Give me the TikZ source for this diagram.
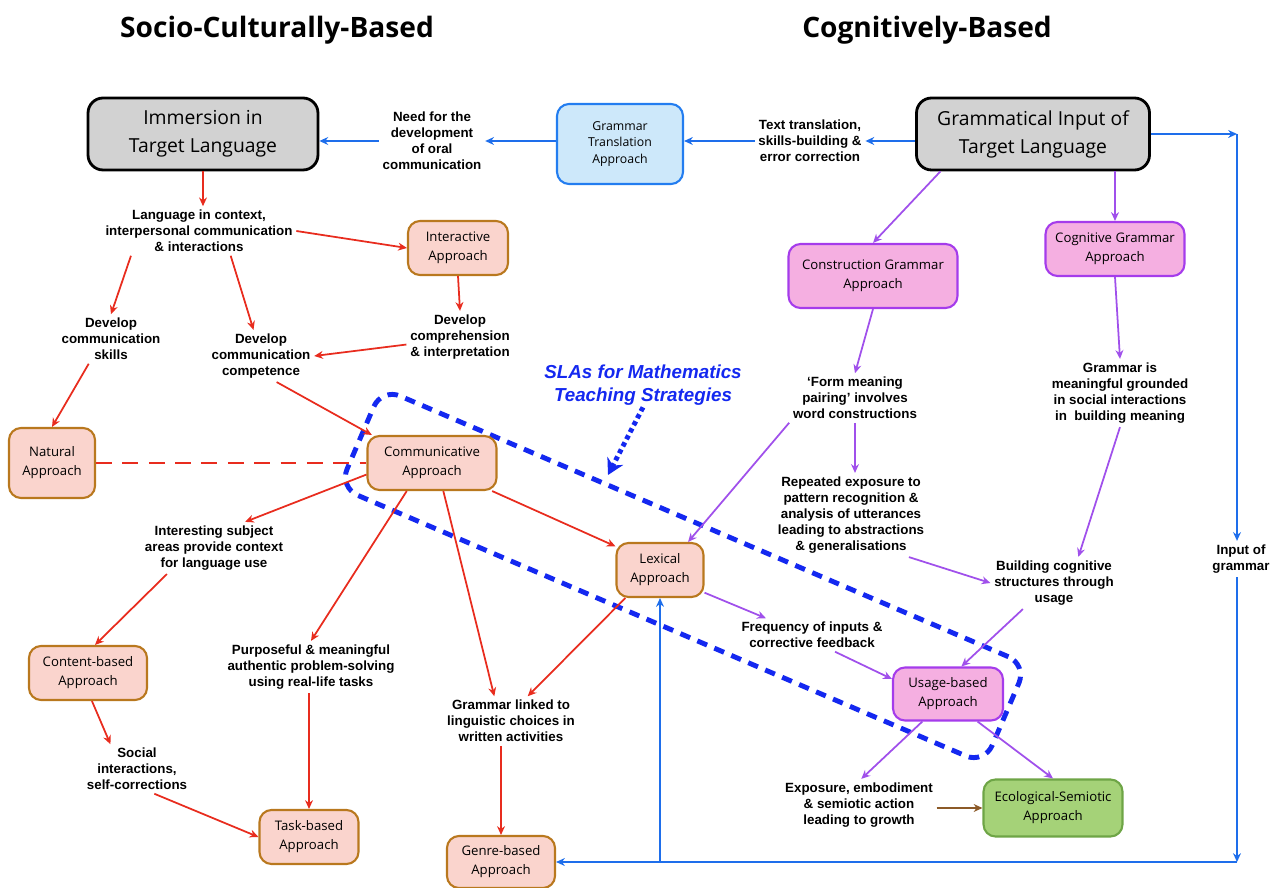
\documentclass[tikz,border=0pt]{standalone}
\usepackage{fontspec}
\setmainfont{Liberation Sans}
\newfontfamily\boxfont{Open Sans}
\usetikzlibrary{arrows.meta, positioning}

\definecolor{redln}{RGB}{232,44,30}
\definecolor{purpln}{RGB}{160,80,235}
\definecolor{blueln}{RGB}{30,110,235}
\definecolor{brownln}{RGB}{140,90,40}
\definecolor{slablue}{RGB}{20,40,240}
\definecolor{apfill}{RGB}{250,212,205}
\definecolor{apdraw}{RGB}{185,120,30}
\definecolor{cgfill}{RGB}{245,175,225}
\definecolor{cgdraw}{RGB}{165,60,235}
\definecolor{ecofill}{RGB}{165,210,120}
\definecolor{ecodraw}{RGB}{110,165,70}
\definecolor{gtfill}{RGB}{205,232,250}
\definecolor{gtdraw}{RGB}{35,125,240}
\definecolor{bigfill}{RGB}{210,210,210}

\begin{document}
\begin{tikzpicture}[
        x=0.02cm, y=-0.02cm,
        >={Stealth[length=5pt,width=4.5pt]},
        box/.style={rounded corners=0.24cm, align=center, line width=1.2pt, inner sep=1pt,
            font=\boxfont\fontsize{7.5}{10.8}\selectfont},
        ap/.style={box, fill=apfill, draw=apdraw},
        cg/.style={box, fill=cgfill, draw=cgdraw},
        eco/.style={box, fill=ecofill, draw=ecodraw},
        gt/.style={box, fill=gtfill, draw=gtdraw, font=\boxfont\fontsize{7}{9.5}\selectfont},
        big/.style={box, rounded corners=0.3cm, fill=bigfill, draw=black, line width=1.6pt,
            font=\boxfont\fontsize{11}{16}\selectfont},
        ttl/.style={font=\boxfont\bfseries\fontsize{16}{19}\selectfont},
        lbl/.style={font=\bfseries\fontsize{7.6}{9.1}\selectfont, align=center, inner sep=2pt},
        sla/.style={font=\bfseries\itshape\fontsize{10.7}{13}\selectfont, align=center,
            text=slablue, inner sep=1pt},
        ra/.style={->, draw=redln, line width=1pt},
        pa/.style={->, draw=purpln, line width=1pt},
        ba/.style={->, draw=blueln, line width=1pt},
        bra/.style={->, draw=brownln, line width=1pt}
    ]
        \useasboundingbox (0,0) rectangle (1278,888);

        % titles
        \node[ttl] (socio) at (277,30) {Socio-Culturally-Based};
        \node[ttl] (cogt) at (927,30) {Cognitively-Based};

        % SLA region
        \node[draw=slablue, line width=2.8pt, dash pattern=on 6pt off 4.5pt, rounded corners=0.4cm,
            rotate=-23.2, minimum width=14.04cm, minimum height=2.16cm] (slaarea) at (683,576) {};
        \node[sla] (sla) at (643,385) {SLAs for Mathematics\\Teaching Strategies};
        \coordinate (slatip) at (608,475);
        \draw[draw=slablue, line width=2.8pt, dash pattern=on 2.5pt off 2pt,
            -{Stealth[length=9pt,width=10pt]}] (sla.south) -- (slatip);

        % boxes
        \node[big, minimum width=4.6cm, minimum height=1.44cm] (imm) at (203,134) {Immersion in\\Target Language};
        \node[gt, minimum width=2.52cm, minimum height=1.6cm] (gta) at (620,144) {Grammar\\Translation\\Approach};
        \node[big, minimum width=4.66cm, minimum height=1.44cm] (gin) at (1033,134) {Grammatical Input of\\Target Language};
        \node[ap, minimum width=2cm, minimum height=1.08cm] (intr) at (458,248) {Interactive\\Approach};
        \node[ap, minimum width=1.72cm, minimum height=1.4cm] (natural) at (52,463) {Natural\\Approach};
        \node[ap, minimum width=2.58cm, minimum height=1.08cm] (comm) at (432,463) {Communicative\\Approach};
        \node[ap, minimum width=2.36cm, minimum height=1.08cm] (content) at (88,673) {Content-based\\Approach};
        \node[ap, minimum width=1.98cm, minimum height=1.08cm] (task) at (309,837) {Task-based\\Approach};
        \node[ap, minimum width=2.16cm, minimum height=1.04cm] (genre) at (501,862) {Genre-based\\Approach};
        \node[ap, minimum width=1.74cm, minimum height=1.08cm] (lex) at (660,570) {Lexical\\Approach};
        \node[cg, minimum width=3.38cm, minimum height=1.28cm] (constr) at (873,276) {Construction Grammar\\Approach};
        \node[cg, minimum width=2.78cm, minimum height=1.08cm] (cogn) at (1115,249) {Cognitive Grammar\\Approach};
        \node[cg, minimum width=2.2cm, minimum height=1.06cm] (usage) at (948,694) {Usage-based\\Approach};
        \node[eco, minimum width=2.78cm, minimum height=1.14cm] (ecosem) at (1053,808) {Ecological-Semiotic\\Approach};

        % labels
        \node[lbl] (need) at (432,141) {Need for the\\development\\of oral\\communication};
        \node[lbl] (txttr) at (810,141) {Text translation,\\skills-building \&\\error correction};
        \node[lbl] (lang) at (199,231) {Language in context,\\interpersonal communication\\\& interactions};
        \node[lbl] (devcomp) at (460,337) {Develop\\comprehension\\\& interpretation};
        \node[lbl] (devcompet) at (261,356) {Develop\\communication\\competence};
        \node[lbl] (devskill) at (111,339) {Develop\\communication\\skills};
        \node[lbl] (interest) at (214,548) {Interesting subject\\areas provide context\\for language use};
        \node[lbl] (social) at (137,769) {Social\\interactions,\\self-corrections};
        \node[lbl] (purpose) at (311,667) {Purposeful \& meaningful\\authentic problem-solving\\using real-life tasks};
        \node[lbl] (gramlink) at (511,721) {Grammar linked to\\linguistic choices in\\written activities};
        \node[lbl] (freq) at (812,635) {Frequency of inputs \&\\corrective feedback};
        \node[lbl] (form) at (855,398) {‘Form meaning\\pairing’ involves\\word constructions};
        \node[lbl] (gramis) at (1120,393) {Grammar is\\meaningful grounded\\in social interactions\\in\ \ building meaning};
        \node[lbl] (reppat) at (851,515) {Repeated exposure to\\pattern recognition \&\\analysis of utterances\\leading to abstractions\\\& generalisations};
        \node[lbl] (build) at (1054,583) {Building cognitive\\structures through\\usage};
        \node[lbl] (expo) at (859,805) {Exposure, embodiment\\\& semiotic action\\leading to growth};
        \node[lbl] (inputg) at (1241,559) {Input of\\grammar};

        \coordinate (incorner) at (1237,134);
        \coordinate (botcorner) at (1237,862);
        \coordinate (lexjoin) at (660,862);

        % red connectors
        \draw[ra] (imm.south) -- (imm.south |- lang.north);
        \draw[ra] (lang.east) -- (intr.west);
        \draw[ra] (lang.-38) -- (devcompet.106);
        \draw[ra] (lang.200) -- (devskill.north);
        \draw[ra] (intr.south) -- (devcomp.north);
        \draw[ra] (devcomp.188) -- (devcompet.east);
        \draw[ra] (devskill.228) -- (natural.north);
        \draw[ra] (devcompet.-59) -- (comm.155);
        \draw[draw=redln, line width=1pt, dash pattern=on 9pt off 6pt] (natural.east) -- (comm.west);
        \draw[ra] (comm.190) -- (interest.40);
        \draw[ra] (interest.209) -- (content.76);
        \draw[ra] (content.-82) -- (social.137);
        \draw[ra] (social.-55) -- (task.west);
        \draw[ra] (comm.-132) -- (purpose.north);
        \draw[ra] (task.north |- purpose.south) -- (task.north);
        \draw[ra] (comm.-68) -- (gramlink.124);
        \draw[ra] (genre.north |- gramlink.south) -- (genre.north);
        \draw[ra] (comm.-25) -- (lex.152);
        \draw[ra] (lex.-141) -- (gramlink.56);

        % purple connectors
        \draw[pa] (gin.-158) -- (constr.north);
        \draw[pa] (cogn.north |- gin.south) -- (cogn.north);
        \draw[pa] (constr.south) -- (form.north);
        \draw[pa] (cogn.south) -- (gramis.north);
        \draw[pa] (form.south west) -- (lex.45);
        \draw[pa] (form.south) -- (form.south |- reppat.north);
        \draw[pa] (reppat.-36) -- (build.west);
        \draw[pa] (gramis.south) -- (build.47);
        \draw[pa] (build.-140) -- (usage.64);
        \draw[pa] (lex.-27) -- (freq.160);
        \draw[pa] (freq.-36) -- (usage.165);
        \draw[pa] (usage.-133) -- (expo.85);
        \draw[pa] (usage.-43) -- (ecosem.north);
        \draw[bra] (expo.east |- ecosem.west) -- (ecosem.west);

        % blue connectors
        \draw[ba] (gin.west |- txttr) -- (txttr.east);
        \draw[ba] (txttr.west) -- (gta.east |- txttr);
        \draw[ba] (gta.west |- need) -- (need.east);
        \draw[ba] (need.west) -- (imm.east |- need);
        \draw[ba] (gin.east) -- (incorner);
        \draw[ba] (incorner) -- (incorner |- inputg.north);
        \draw[ba] (incorner |- inputg.south) -- (botcorner);
        \draw[ba] (botcorner) -- (genre.east);
        \draw[ba] (lexjoin) -- (lex.south);
    \end{tikzpicture}
\end{document}
